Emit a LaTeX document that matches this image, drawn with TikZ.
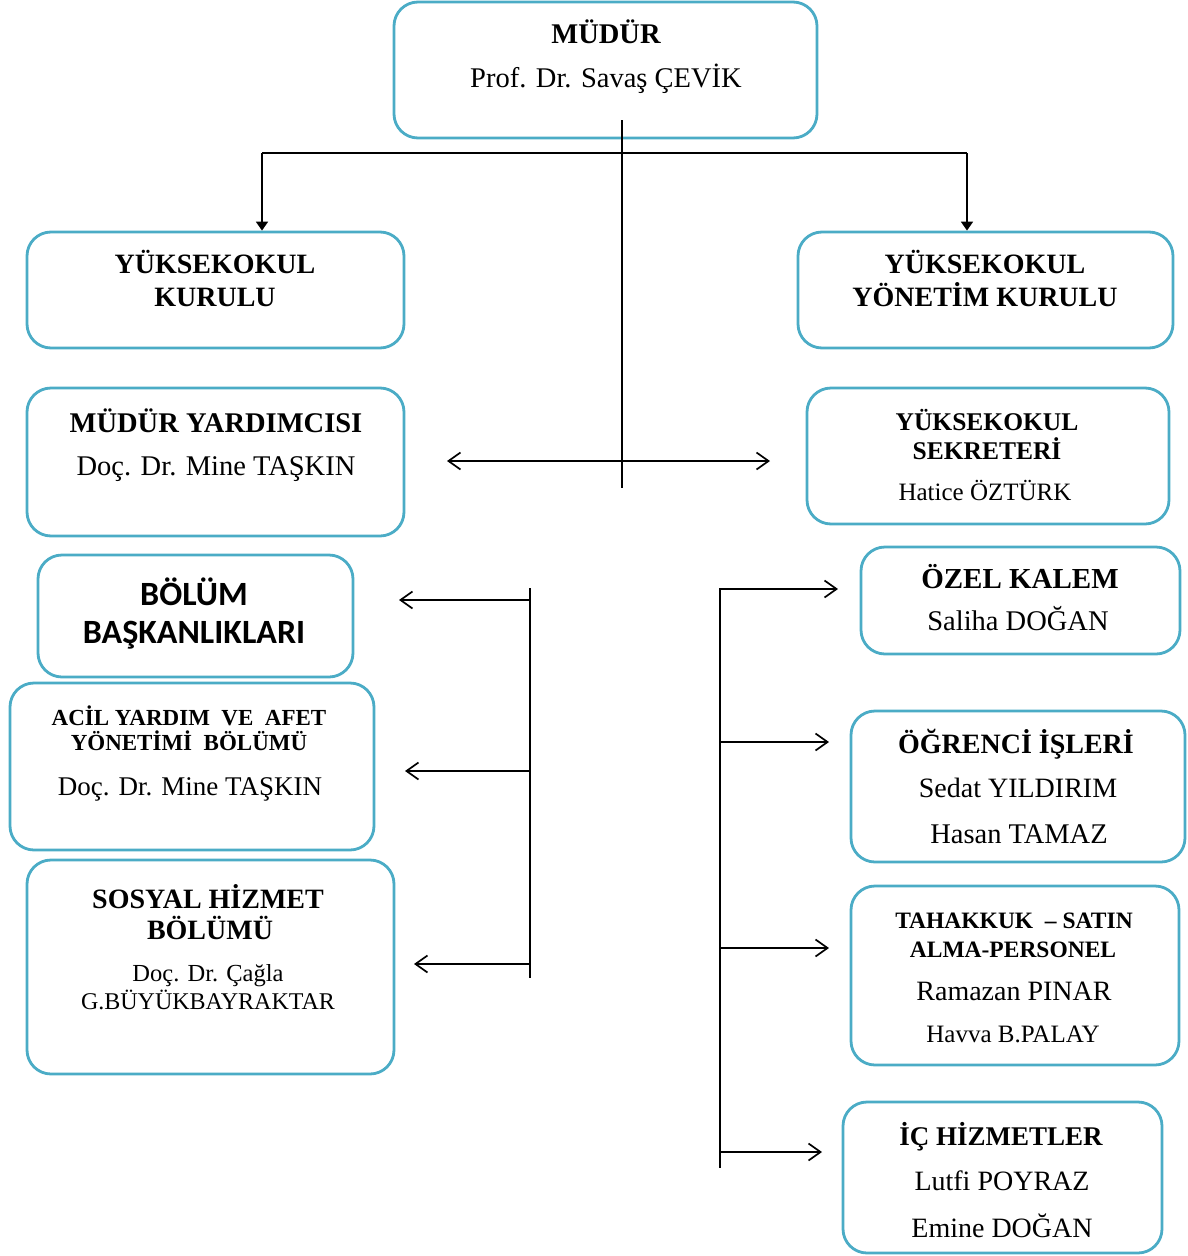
\documentclass[tikz,border=0pt]{standalone}
\usepackage{fontspec}
\setmainfont{Liberation Serif}
\newfontfamily\calib{Carlito}
\usetikzlibrary{arrows.meta}
\definecolor{aqua}{RGB}{75,172,198}
\newcommand\mkbox[5]{\node[orgbox, minimum width={#4-#2}, minimum height={#5-#3}] (#1) at ({(#2+#4)/2},{(#3+#5)/2}) {};}
\begin{document}
\begin{tikzpicture}[x=1pt,y=-1pt,
  orgbox/.style={draw=aqua, line width=2.8pt, rounded corners=24pt, fill=white, inner sep=0pt},
  conn/.style={line width=1.7pt, black},
  barb/.style={conn, -{Straight Barb[length=12pt,width=17pt,line width=1.7pt]}},
  hd/.style={anchor=base, inner sep=0pt, font=\fontsize{#1}{#1}\selectfont\bfseries},
  nm/.style={anchor=base, inner sep=0pt, font=\fontsize{#1}{#1}\selectfont},
]
\useasboundingbox (0,0) rectangle (1187,1256);

% boxes
\mkbox{mudur}{394}{2}{817}{138}
\mkbox{ykurul}{27}{232}{404}{348}
\mkbox{yyk}{798}{232}{1173}{348}
\mkbox{myard}{27}{388}{404}{536}
\mkbox{sekr}{807}{388}{1169}{524}
\mkbox{bolum}{38}{555}{353}{677}
\mkbox{acil}{10}{683}{374}{850}
\mkbox{sosyal}{27}{860}{394}{1074}
\mkbox{ozel}{861}{547}{1180}{654}
\mkbox{ogr}{851}{711}{1185}{862}
\mkbox{tah}{851}{886}{1179}{1065}
\mkbox{ic}{843}{1102}{1162}{1253}

% texts
\node[hd=28.5] (t1a) at (606,43) {MÜDÜR};
\node[nm=28.5] (t1b) at (606,87) {Prof. Dr. Savaş ÇEVİK};

\node[hd=28] (t2a) at (215,273) {YÜKSEKOKUL};
\node[hd=28] (t2b) at (215,306) {KURULU};

\node[hd=28] (t3a) at (985,273) {YÜKSEKOKUL};
\node[hd=28] (t3b) at (985,306) {YÖNETİM KURULU};

\node[hd=28.5] (t4a) at (216,432) {MÜDÜR YARDIMCISI};
\node[nm=28.5] (t4b) at (216,475) {Doç. Dr. Mine TAŞKIN};

\node[hd=25.5] (t5a) at (987,430) {YÜKSEKOKUL};
\node[hd=25.5] (t5b) at (987,459) {SEKRETERİ};
\node[nm=25] (t5c) at (985,500) {Hatice ÖZTÜRK};

\node[anchor=base, inner sep=0pt, font=\calib\fontsize{34}{34}\selectfont\bfseries] (t6a) at (194,605) {BÖLÜM};
\node[anchor=base, inner sep=0pt, font=\calib\fontsize{34}{34}\selectfont\bfseries] (t6b) at (194,643) {BAŞKANLIKLARI};

\node[hd=23] (t7a) at (189,725) {ACİL YARDIM\ \ VE\ \ AFET};
\node[hd=23] (t7b) at (189,750) {YÖNETİMİ\ \ BÖLÜMÜ};
\node[nm=27] (t7c) at (190,795) {Doç. Dr. Mine TAŞKIN};

\node[hd=28] (t8a) at (208,908) {SOSYAL HİZMET};
\node[hd=28] (t8b) at (210,939) {BÖLÜMÜ};
\node[nm=24.5] (t8c) at (208,981) {Doç. Dr. Çağla};
\node[nm=24] (t8d) at (208,1009) {G.BÜYÜKBAYRAKTAR};

\node[hd=29] (t9a) at (1020,588) {ÖZEL KALEM};
\node[nm=28.5] (t9b) at (1018,630) {Saliha DOĞAN};

\node[hd=28] (t10a) at (1016,753) {ÖĞRENCİ İŞLERİ};
\node[nm=28] (t10b) at (1018,797) {Sedat YILDIRIM};
\node[nm=28.5] (t10c) at (1019,843) {Hasan TAMAZ};

\node[hd=23.5] (t11a) at (1014,928) {TAHAKKUK\ \ – SATIN};
\node[hd=23.5] (t11b) at (1013,957) {ALMA-PERSONEL};
\node[nm=28] (t11c) at (1014,1000) {Ramazan PINAR};
\node[nm=25] (t11d) at (1013,1042) {Havva B.PALAY};

\node[hd=27] (t12a) at (1001,1145) {İÇ HİZMETLER};
\node[nm=28] (t12b) at (1002,1190) {Lutfi POYRAZ};
\node[nm=28] (t12c) at (1002,1237) {Emine DOĞAN};

% connectors
\coordinate (vtop) at (622,120);
\coordinate (vbot) at (622,488);
\draw[conn] (vtop) -- (vbot);
\coordinate (hl) at (262,153);
\coordinate (hr) at (967,153);
\draw[conn] (hl) -- (hr);
\draw[conn, -{Triangle[length=9pt,width=12pt]}] (hl) -- (hl |- ykurul.north);
\draw[conn, -{Triangle[length=9pt,width=12pt]}] (hr) -- (hr |- yyk.north);

\coordinate (dl) at (447,461);
\coordinate (dr) at (770,461);
\draw[conn, {Straight Barb[length=12pt,width=17pt,line width=1.7pt]}-{Straight Barb[length=12pt,width=17pt,line width=1.7pt]}] (dl) -- (dr);

\coordinate (lb1) at (530,588);
\coordinate (lb2) at (530,978);
\draw[conn] (lb1) -- (lb2);
\coordinate (abol) at (399,600);
\coordinate (aacil) at (405,771);
\coordinate (asos) at (414,964);
\draw[barb] (lb1 |- abol) -- (abol);
\draw[barb] (lb1 |- aacil) -- (aacil);
\draw[barb] (lb1 |- asos) -- (asos);

\coordinate (rb1) at (720,588);
\coordinate (rb2) at (720,1168);
\draw[conn] (rb1) -- (rb2);
\coordinate (aozel) at (838,589);
\coordinate (aogr) at (829,742);
\coordinate (atah) at (829,948);
\coordinate (aic) at (822,1152);
\draw[barb] (rb1 |- aozel) -- (aozel);
\draw[barb] (rb1 |- aogr) -- (aogr);
\draw[barb] (rb1 |- atah) -- (atah);
\draw[barb] (rb1 |- aic) -- (aic);
\end{tikzpicture}
\end{document}
